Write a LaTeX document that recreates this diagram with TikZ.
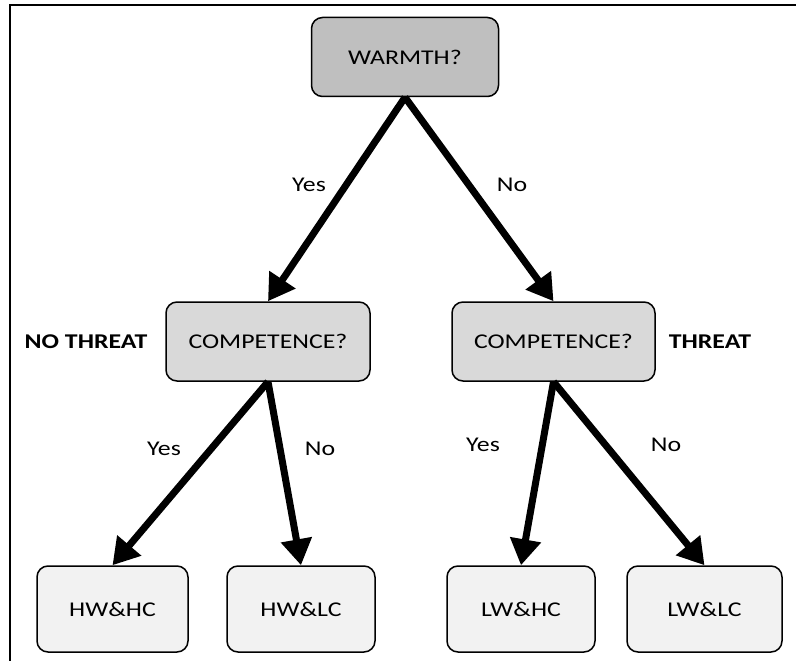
\documentclass[tikz,border=0pt]{standalone}
\usepackage{fontspec}
\setmainfont{Carlito}[FakeStretch=1.23]
\usetikzlibrary{arrows.meta}
\definecolor{topfill}{HTML}{BFBFBF}
\definecolor{midfill}{HTML}{D9D9D9}
\definecolor{leaffill}{HTML}{F2F2F2}
\tikzset{
  box/.style={draw=black, line width=1.5pt, rounded corners=11pt, inner sep=0pt,
    font=\fontsize{21}{25}\selectfont},
  lbl/.style={font=\fontsize{21}{25}\selectfont, inner sep=0pt},
  blbl/.style={font=\fontsize{21}{25}\selectfont\bfseries, inner sep=0pt},
  bigarrow/.style={line width=7pt, -{Triangle[length=26pt,width=30pt]}},
}
\begin{document}
\begin{tikzpicture}[x=1pt,y=1pt]
\useasboundingbox (0,0) rectangle (796,-661);
\draw[line width=2pt] (10,-661) -- (10,-5) -- (796,-5);
% nodes
\node[box, fill=topfill, minimum width=187pt, minimum height=79pt] (warm) at (405,-57) {WARMTH?};
\node[box, fill=midfill, minimum width=204pt, minimum height=79pt] (lc) at (268,-341.5) {COMPETENCE?};
\node[box, fill=midfill, minimum width=203pt, minimum height=79pt] (rc) at (553.5,-341.5) {COMPETENCE?};
\node[box, fill=leaffill, minimum width=151pt, minimum height=86pt] (hwhc) at (112.5,-609) {HW\&HC};
\node[box, fill=leaffill, minimum width=148pt, minimum height=86pt] (hwlc) at (301,-609) {HW\&LC};
\node[box, fill=leaffill, minimum width=148pt, minimum height=86pt] (lwhc) at (521,-609) {LW\&HC};
\node[box, fill=leaffill, minimum width=155pt, minimum height=86pt] (lwlc) at (704.5,-609) {LW\&LC};
% arrows
\draw[bigarrow] (warm.south) -- (lc.north);
\draw[bigarrow] (warm.south) -- (rc.north);
\draw[bigarrow] (lc.south) -- (hwhc.north);
\draw[bigarrow] (lc.south) -- (hwlc.north);
\draw[bigarrow] (rc.south) -- (lwhc.north);
\draw[bigarrow] (rc.south) -- (lwlc.north);
% labels
\node[lbl] (y1) at (309,-185) {Yes};
\node[lbl] (n1) at (512,-185) {No};
\node[lbl] (y2) at (164,-449) {Yes};
\node[lbl] (n2) at (320,-449) {No};
\node[lbl] (y3) at (483,-445) {Yes};
\node[lbl] (n3) at (666,-445) {No};
\node[blbl] (nothreat) at (86,-342) {NO THREAT};
\node[blbl] (threat) at (710,-342) {THREAT};
\end{tikzpicture}
\end{document}
